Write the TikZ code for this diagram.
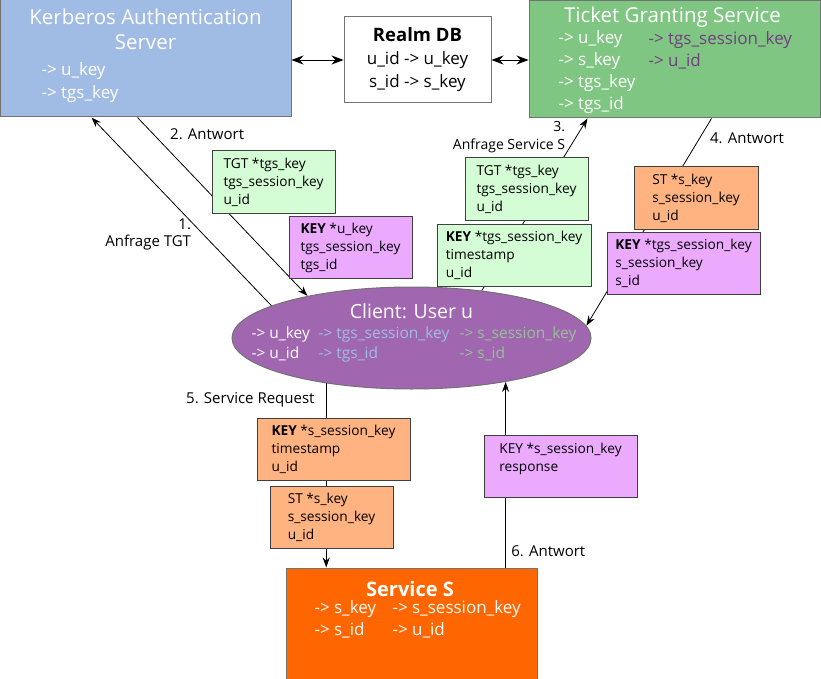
\documentclass[tikz,border=0pt]{standalone}
\usepackage{fontspec}
\setmainfont{Open Sans}
\usetikzlibrary{shapes.geometric, calc, arrows.meta, positioning}
\definecolor{asblue}{RGB}{160,188,228}
\definecolor{tgsgreen}{RGB}{128,198,131}
\definecolor{clientpurple}{RGB}{161,102,176}
\definecolor{srvorange}{RGB}{255,102,0}
\definecolor{msggreen}{RGB}{213,253,213}
\definecolor{msgpurple}{RGB}{236,170,255}
\definecolor{msgorange}{RGB}{255,179,128}
\definecolor{newpurple}{RGB}{112,64,128}
\definecolor{keygreen}{RGB}{150,195,150}
\tikzset{
        server/.style = {draw=black!55, rectangle, line width=1pt},
        headline/.style = {text=white, align=center, font=\fontsize{20.5}{25}\selectfont},
        keylist/.style = {anchor=west, align=left, font=\fontsize{17}{22}\selectfont},
        msg/.style = {draw=black!75, rectangle, line width=1pt,
            minimum height=62, align=left,
            font=\fontsize{13.7}{18}\selectfont},
        lbl/.style = {font=\fontsize{15}{17}\selectfont},
        arrow/.style = {draw, line width=0.8pt, -{Stealth[length=10pt, width=7pt]}},
        biarrow/.style = {draw, line width=0.8pt,
            {Stealth[length=12pt, width=9pt]}-{Stealth[length=12pt, width=9pt]}},
}

\begin{document}
\begin{tikzpicture}[x=1pt, y=-1pt]
\useasboundingbox (0,0) rectangle (821,679);
% servers
\node [server, fill=asblue, minimum width=291, minimum height=117] (kas) at (145.5,58.5) {};
\node [headline] (kastitle) at (145.5,29) {Kerberos Authentication\\Server};
\node [keylist, text=white, font=\fontsize{17}{23}\selectfont] (kaskeys) at (38,82.5) {-> u\_key\\-> tgs\_key};
\node [server, fill=white, minimum width=147, minimum height=86, align=center,
       font=\fontsize{17}{23}\selectfont] (realm) at (417.5,60)
       {{\fontsize{18.5}{23}\selectfont\bfseries Realm DB}\\u\_id -> u\_key\\s\_id -> s\_key};
\node [server, fill=tgsgreen, minimum width=291, minimum height=117] (tgs) at (674.5,59.5) {};
\node [headline] (tgstitle) at (672.5,17) {Ticket Granting Service};
\node [keylist, text=white] (tgskeys) at (555,72) {-> u\_key\\-> s\_key\\-> tgs\_key\\-> tgs\_id};
\node [keylist, text=newpurple] (tgsnew) at (645,50) {-> tgs\_session\_key\\-> u\_id};
\node [server, ellipse, fill=clientpurple, minimum width=359, minimum height=102, inner sep=0] (client) at (411.5,338) {};
\node [headline, font=\fontsize{19.5}{22}\selectfont] (clienttitle) at (411.5,311) {Client: User u};
\node [keylist, text=white, font=\fontsize{15.5}{20}\selectfont] (cown) at (248,344) {-> u\_key\\-> u\_id};
\node [keylist, text=asblue, font=\fontsize{15.5}{20}\selectfont] (ctgs) at (315,344) {-> tgs\_session\_key\\-> tgs\_id};
\node [keylist, text=keygreen, font=\fontsize{15.5}{20}\selectfont] (csrv) at (456,344) {-> s\_session\_key\\-> s\_id};
\node [server, fill=srvorange, minimum width=251, minimum height=111] (srv) at (411.5,623.5) {};
\node [headline, font=\fontsize{20}{25}\selectfont\bfseries] (srvtitle) at (410,589) {Service S};
\node [keylist, text=white] (srvown) at (311,619) {-> s\_key\\-> s\_id};
\node [keylist, text=white] (srvnew) at (389,619) {-> s\_session\_key\\-> u\_id};
% realm db
\draw [biarrow] (kas.east |- realm.west) -- (realm.west);
\draw [biarrow] (realm.east) -- (tgs.west |- realm.east);
% messages
\draw [arrow] (client.167) -- node[lbl, pos=0.376, left=9pt, align=right] {1.\\Anfrage TGT} ($(kas.south west)+(92,0)$);
\draw [arrow] ($(kas.south west)+(138,0)$) -- node[lbl, pos=0.094, right=13pt] {2. Antwort} (client.158.9);
\draw [arrow] (client.34.5) -- node[lbl, pos=0.89, left=7pt, align=right, font=\fontsize{14}{18}\selectfont] {3.\\Anfrage Service S} ($(tgs.south west)+(59,0)$);
\draw [arrow] ($(tgs.south west)+(183,0)$) -- node[lbl, pos=0.097, right=7pt] {4. Antwort} (client.4.3);
\draw [arrow] (client.208.4) -- node[lbl, pos=0.092, left=8pt] {5. Service Request} (client.208.4 |- srv.north);
\draw [arrow] (srv.north -| client.335.3) -- node[lbl, pos=0.086, right=2pt] {6. Antwort} (client.335.3);
% tickets and keys
\node [msg, fill=msggreen, minimum width=123] (tgt1) at (273.5,182) {TGT *tgs\_key\\tgs\_session\_key\\u\_id};
\node [msg, fill=msgpurple, minimum width=123] (key1) at (350.5,247.5) {\textbf{KEY} *u\_key\\tgs\_session\_key\\tgs\_id};
\node [msg, fill=msggreen, minimum width=123] (tgt3) at (526.5,189) {TGT *tgs\_key\\tgs\_session\_key\\u\_id};
\node [msg, fill=msggreen, minimum width=154] (key3) at (514,255.5) {\textbf{KEY} *tgs\_session\_key\\timestamp\\u\_id};
\node [msg, fill=msgorange, minimum width=124] (st4) at (696,198) {ST *s\_key\\s\_session\_key\\u\_id};
\node [msg, fill=msgpurple, minimum width=153] (key4) at (683.5,263.5) {\textbf{KEY} *tgs\_session\_key\\s\_session\_key\\s\_id};
\node [msg, fill=msgorange, minimum width=153] (key5) at (333.5,449.5) {\textbf{KEY} *s\_session\_key\\timestamp\\u\_id};
\node [msg, fill=msgorange, minimum width=123] (st5) at (331.5,517) {ST *s\_key\\s\_session\_key\\u\_id};
\node [msg, fill=msgpurple, minimum width=153] (key6) at (560.5,466) {KEY *s\_session\_key\\response\\~};
\end{tikzpicture}
\end{document}
